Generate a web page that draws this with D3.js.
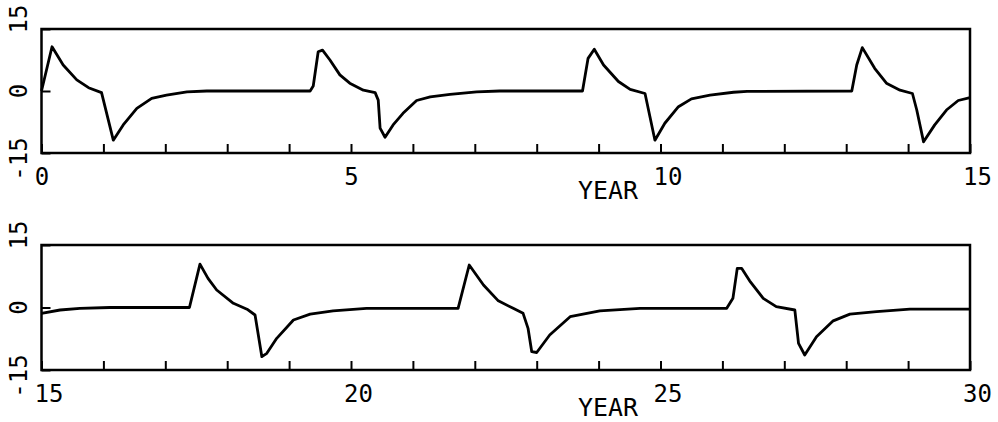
<!DOCTYPE html>
<html>
<head>
<meta charset="utf-8">
<script src="https://cdn.jsdelivr.net/npm/d3@7"></script>
<style>
  body { margin: 0; background: #fff; }
  text { font-family: 'DejaVu Sans Mono', monospace; fill: #000; }
</style>
</head>
<body>
<svg width="998" height="422"></svg>
<script>
const topYears = [0, 0.17, 0.35, 0.57, 0.76, 0.97, 1.16, 1.32, 1.54, 1.78, 2.02, 2.35, 2.67, 3.35,
  4.34, 4.39, 4.47, 4.54, 4.66, 4.82, 4.98, 5.2, 5.39, 5.44, 5.47, 5.55, 5.68, 5.84, 6.06, 6.28, 6.6, 7.03, 7.4,
  8.74, 8.83, 8.93, 9.08, 9.32, 9.51, 9.75, 9.91, 10.07, 10.29, 10.5, 10.8, 11.18, 11.4,
  13.09, 13.17, 13.26, 13.46, 13.65, 13.87, 14.07, 14.14, 14.25, 14.43, 14.62, 14.81, 15];
const topValues = [0, 10.7, 6.3, 2.7, 0.8, -0.4, -11.9, -8.2, -4.2, -1.8, -1.0, -0.2, 0, 0,
  0, 1.2, 9.5, 9.9, 7.5, 3.9, 1.9, 0.2, -0.4, -2.2, -9.0, -11.2, -8.2, -5.4, -2.3, -1.4, -0.8, -0.2, 0,
  0, 7.9, 10.1, 6.3, 2.3, 0.4, -0.6, -11.9, -7.8, -3.8, -1.9, -1.0, -0.3, -0.1,
  0, 6.3, 10.5, 5.5, 1.9, 0.2, -0.6, -4.6, -12.3, -8.2, -4.6, -2.3, -1.6];

const bottomYears = [15, 15.3, 15.62, 16.1, 17.39, 17.56, 17.69, 17.83, 18.1, 18.32, 18.45, 18.56, 18.64, 18.8,
  19.07, 19.34, 19.71, 20.25, 21.73, 21.91, 22.14, 22.38, 22.62, 22.78, 22.86, 22.92, 23.0, 23.21, 23.54, 24.02,
  24.67, 26.07, 26.17, 26.24, 26.31, 26.44, 26.66, 26.87, 27.17, 27.23, 27.33, 27.52, 27.79, 28.06, 28.49, 29.03, 30];
const bottomValues = [-1.4, -0.6, -0.2, 0, 0, 10.4, 7.0, 4.2, 1.0, -0.4, -1.8, -11.8, -11.0, -7.4,
  -3.0, -1.6, -0.8, -0.2, -0.2, 10.2, 5.4, 1.6, -0.2, -1.4, -5.0, -10.6, -10.8, -6.6, -2.2, -0.8,
  -0.2, -0.2, 2.2, 9.4, 9.4, 6.4, 2.2, 0.2, -0.6, -8.6, -11.4, -7.0, -3.2, -1.6, -1.0, -0.4, -0.4];

const yTicks = [-15, 0, 15];
const xLabelStep = 5;

const svg = d3.select('svg');
const left = 41.5;
const right = 970;

function panel(top, bottom, domain, years, values) {
  const x = d3.scaleLinear().domain(domain).range([left, right]);
  const y = d3.scaleLinear().domain([-15, 15]).range([bottom, top]);
  const g = svg.append('g');

  const xAxis = d3.axisBottom(x)
    .tickValues(d3.range(domain[0], domain[1] + 1))
    .tickSize(-9)
    .tickFormat((d) => (d % xLabelStep === 0 ? d : ''));
  const ax = g.append('g').attr('transform', `translate(0, ${bottom})`).call(xAxis);
  ax.select('.domain').remove();
  ax.selectAll('.tick line').attr('stroke', '#000').attr('stroke-width', 2);
  ax.selectAll('.tick text')
    .attr('y', 32).attr('dy', 0)
    .attr('dx', (d) => (String(d).length - 1) * 7)
    .attr('font-size', 24)
    .attr('font-family', 'DejaVu Sans Mono');

  const yAxis = d3.axisLeft(y).tickValues(yTicks).tickSize(-9).tickFormat('');
  const ay = g.append('g').attr('transform', `translate(${left}, 0)`).call(yAxis);
  ay.select('.domain').remove();
  ay.selectAll('.tick line').attr('stroke', '#000').attr('stroke-width', 2);

  g.selectAll('.ylab')
    .data(yTicks)
    .enter()
    .append('text')
    .attr('class', 'ylab')
    .attr('transform', (d) => {
      const off = d === 15 ? -10 : d === -15 ? 6 : 0;
      return `translate(27, ${y(d) + off}) rotate(-90)`;
    })
    .attr('text-anchor', 'middle')
    .attr('font-size', 24)
    .text((d) => d);

  g.append('rect')
    .attr('x', left).attr('y', top)
    .attr('width', right - left).attr('height', bottom - top)
    .attr('fill', 'none').attr('stroke', '#000').attr('stroke-width', 2.5);

  const line = d3.line()
    .x((d, i) => x(years[i]))
    .y((d) => y(d));
  g.append('path')
    .datum(values)
    .attr('d', line)
    .attr('fill', 'none')
    .attr('stroke', '#000')
    .attr('stroke-width', 2.8)
    .attr('stroke-linejoin', 'round');

  g.append('text')
    .attr('x', 608).attr('y', bottom + 46)
    .attr('text-anchor', 'middle')
    .attr('font-size', 25)
    .attr('textLength', 60)
    .attr('lengthAdjust', 'spacingAndGlyphs')
    .text('YEAR');
}

panel(29, 153, [0, 15], topYears, topValues);
panel(245, 370, [15, 30], bottomYears, bottomValues);
</script>
</body>
</html>
